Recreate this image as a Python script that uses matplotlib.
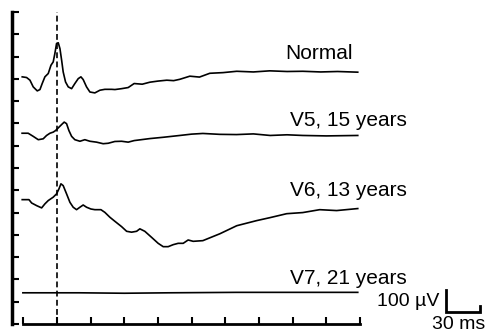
import matplotlib
matplotlib.use("Agg")
import matplotlib.pyplot as plt

plt.rcParams['font.family'] = ['Liberation Sans', 'DejaVu Sans']

# traces: time (ms) and amplitude (uV) relative to each trace's own baseline
labels = ["Normal", "V5, 15 years", "V6, 13 years", "V7, 21 years"]
offsets = [1100, 850, 560, 140]

t_normal = [-30.9, -27, -24, -21.1, -17.5, -15.1, -13.1, -10.7, -7.7, -5.3, -3.3, -1.8, -0.3,
            1.2, 2.7, 4.2, 5.6, 7.7, 10.1, 13.1, 16, 19, 21.4, 23.4, 26.4, 29.4, 33.8,
            38.3, 42.7, 48.7, 51.7, 57.6, 63.5, 68.8, 76, 82.8, 90, 97.9, 104, 109.5,
            118.4, 127, 136.2, 148, 160.2, 175, 189.6, 205, 219, 235, 250, 268]
v_normal = [9, 6, -6, -36, -54, -48, -21, 9, 24, 61, 76, 114, 159,
            162, 136, 84, 31, -14, -36, -44, -21, 1, 9, -3, -36, -59, -63,
            -51, -47, -47, -48, -44, -39, -21, -24, -15, -10, -6, -8, -2,
            12, 8, 25, 28, 34, 31, 36, 33, 34, 31, 33, 30]

t_v5 = [-31, -25.6, -21.1, -16.6, -12.2, -9.2, -6.2, -3.3, -1.2, 1.2, 4.2, 6.5, 8.6, 10.7,
        13.1, 16, 20.5, 24.9, 29.4, 35.3, 41.2, 45.7, 51.6, 57.6, 63.5, 68.8, 82.8, 95,
        109.5, 120, 130, 145, 160, 175, 190, 205, 219, 240, 268]
v_v5 = [6, 6, -8, -23, -19, -4, 6, 11, 18, 30, 45, 56, 49, 18,
        -8, -23, -30, -23, -30, -34, -41, -39, -31, -30, -34, -27, -18, -12,
        -4, 2, 5, 1, 0, 3, -4, -1, -4, -6, -4]

t_v6 = [-30.9, -24.9, -22.5, -18, -13.6, -10.7, -7.7, -3.3, -0.3, 1.8, 3.6, 5.6, 8.6, 11.6,
        14.5, 17.5, 20.5, 23.4, 26.4, 30.3, 33.8, 39.2, 42.7, 47.2, 51.6, 57.6, 62.1,
        66.5, 71, 73.9, 78.3, 84.3, 90.2, 94.7, 99.1, 103.6, 108, 112.5, 116.9, 121.4,
        130, 145.2, 160.2, 178, 189.6, 204.7, 219, 234.1, 249.2, 268]
v_v6 = [-2, -2, -17, -29, -39, -21, -6, 9, 24, 46, 69, 61, 24, -14,
        -36, -47, -36, -26, -36, -44, -47, -47, -59, -81, -99, -123, -144,
        -148, -144, -133, -144, -171, -198, -213, -213, -204, -198, -198, -183, -189,
        -186, -155, -119, -96, -83, -65, -60, -47, -51, -42]

t_v7 = [-30.3, 20, 60, 100, 160, 268]
v_v7 = [0, 0, -2, 0, 2, 2]

traces_t = [t_normal, t_v5, t_v6, t_v7]
traces_v = [v_normal, v_v5, v_v6, v_v7]
label_y = [1215, 913, 598, 202]

fig = plt.figure(figsize=(4.9, 3.3), dpi=100)
ax = fig.add_axes([12 / 490, 1 - 324 / 330, 348 / 490, 312 / 330])

for t, v, off in zip(traces_t, traces_v, offsets):
    ax.plot(t, [a + off for a in v], color='black', lw=1.2)

# "Normal" ends near the trace end, the patient labels start at a common x
ax.text(263.5, label_y[0], labels[0], ha='right', va='center', fontsize=15, clip_on=False)
for lab, y in zip(labels[1:], label_y[1:]):
    ax.text(208, y, lab, ha='left', va='center', fontsize=15, clip_on=False)

# stimulus onset
ax.plot([0, 0], [0, 1400], color='black', lw=1.2, ls=(0, (3.5, 2)))

# scale bar: 100 uV / 30 ms
ax.plot([347, 347, 377, 377], [154, 54, 54, 80], color='black', lw=2,
        clip_on=False, solid_joinstyle='miter')
ax.text(341, 103, "100 µV", ha='right', va='center', fontsize=14, clip_on=False)
ax.text(358, 38, "30 ms", ha='center', va='top', fontsize=14, clip_on=False)

ax.set_xlim(-40, 270)
ax.set_ylim(0, 1400)
ax.set_xticks(range(-30, 271, 30))
ax.set_yticks(range(0, 1401, 100))
ax.set_xticklabels([])
ax.set_yticklabels([])
ax.tick_params(direction='in', length=5, width=1.5, colors='black')
ax.spines['top'].set_visible(False)
ax.spines['right'].set_visible(False)
ax.spines['left'].set_linewidth(2.5)
ax.spines['bottom'].set_linewidth(2)
ax.spines['left'].set_bounds(0, 1400)
ax.spines['bottom'].set_bounds(-30, 270)
ax.patch.set_visible(False)

fig.savefig("out.png", dpi=100)
